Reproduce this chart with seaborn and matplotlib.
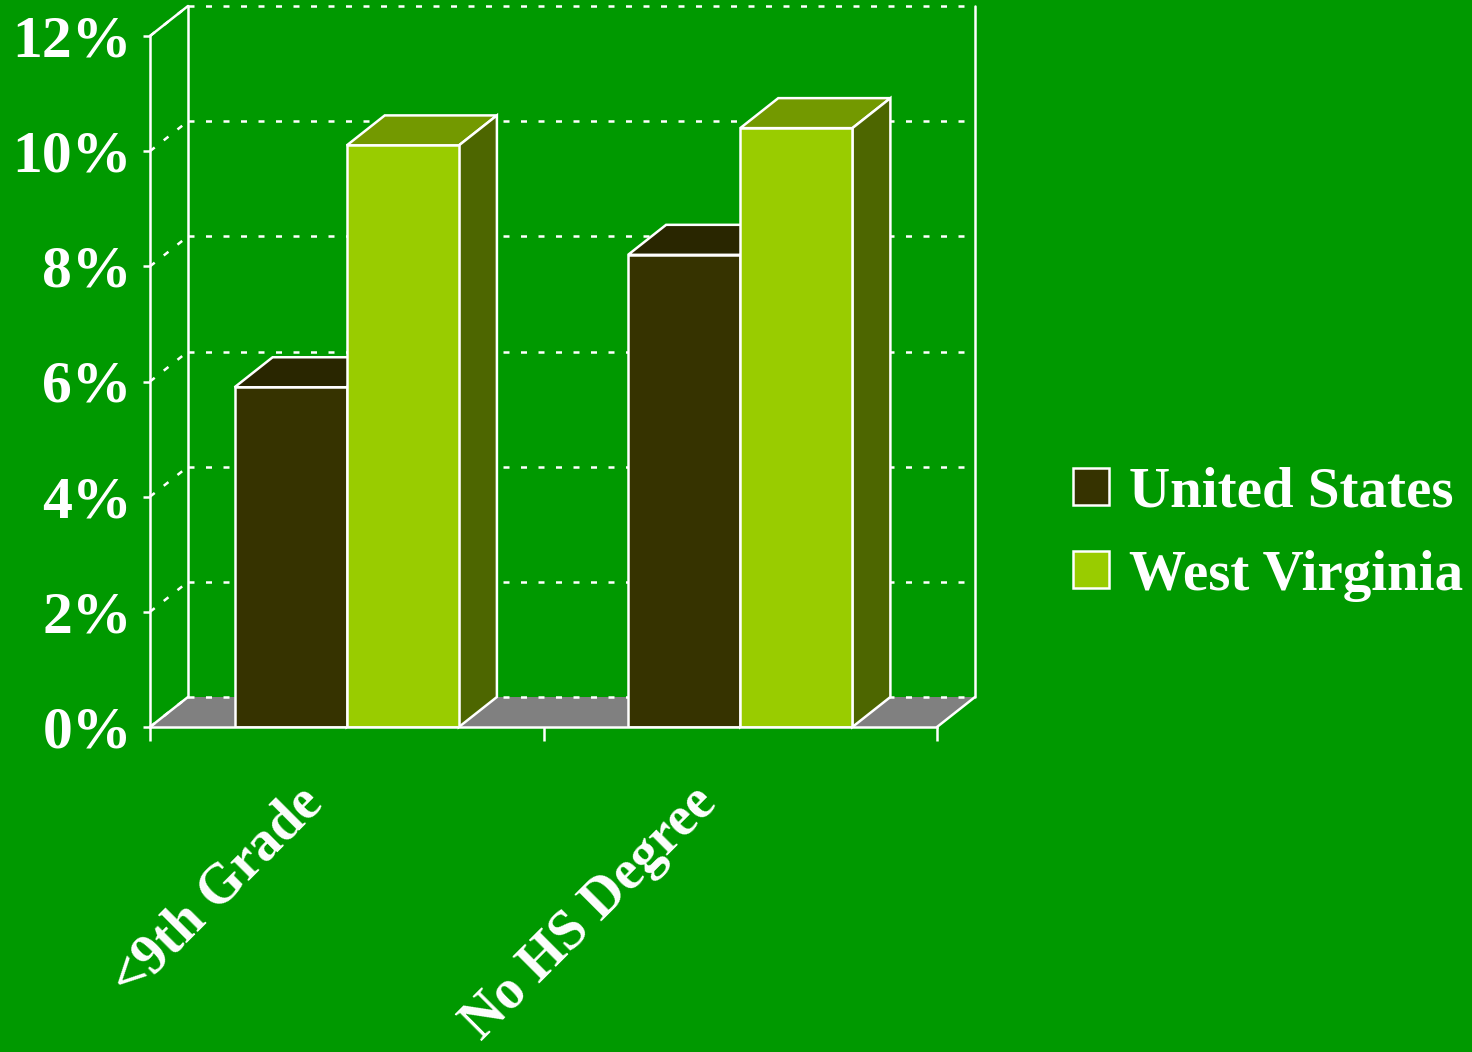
import numpy as np
import pandas as pd
import seaborn as sns
import matplotlib.pyplot as plt
import matplotlib.transforms as mtransforms
import matplotlib.ticker as mtick
from matplotlib.patches import Polygon

levels = ["<9th Grade", "No HS Degree"]
regions = ["United States", "West Virginia"]
us_pct = [5.9, 8.2]
wv_pct = [10.1, 10.4]
y_ticks = [0, 2, 4, 6, 8, 10, 12]

bg = "#009900"
bar_colors = ["#363300", "#99CC00"]
floor_color = "#808080"

df = pd.DataFrame({
    "level": levels * 2,
    "region": [regions[0]] * len(levels) + [regions[1]] * len(levels),
    "pct": us_pct + wv_pct,
})

sns.set_theme(style="white")
plt.rcParams["font.family"] = ["Liberation Serif", "DejaVu Serif"]
plt.rcParams["font.weight"] = "bold"

W, H = 1472, 1052
fig = plt.figure(figsize=(W / 100, H / 100), dpi=100)
fig.patch.set_facecolor(bg)
ax = fig.add_axes([150 / W, (H - 727) / H, 787 / W, 691 / H])
ax.set_facecolor("none")

sns.barplot(data=df, x="level", y="pct", hue="region", palette=bar_colors,
            saturation=1, width=0.57, edgecolor="white", linewidth=1.8,
            ax=ax, zorder=3)
ax.set_xlim(-0.5, 1.5)
ax.set_ylim(0, 12)
bars = list(ax.patches)

# depth of the fake 3-D box: 38px right, 30px up -> data units
inv = ax.transData.inverted()
origin = ax.transData.transform((0, 0))
dx, dy = inv.transform(origin + np.array([38, 30])) - inv.transform(origin)

line_kw = dict(color="white", lw=1.8, clip_on=False)
grid_kw = dict(color="white", lw=1.8, ls=(0, (2.4, 4.6)), clip_on=False, zorder=1.5)

# floor
ax.add_patch(Polygon([(-0.5, 0), (1.5, 0), (1.5 + dx, dy), (-0.5 + dx, dy)],
                     fc=floor_color, ec="none", clip_on=False, zorder=1))

# back wall + side wall grid
for t in y_ticks:
    ax.plot([-0.5 + dx, 1.5 + dx], [t + dy, t + dy], **grid_kw)
    ax.plot([-0.5, -0.5 + dx], [t, t + dy], **grid_kw)

ax.plot([-0.5 + dx, -0.5 + dx], [dy, 12 + dy], zorder=1.6, **line_kw)
ax.plot([1.5 + dx, 1.5 + dx], [dy, 12 + dy], zorder=1.6, **line_kw)
ax.plot([-0.5, -0.5 + dx], [12, 12 + dy], zorder=1.6, **line_kw)
ax.plot([-0.5, -0.5 + dx], [0, dy], zorder=1.6, **line_kw)
ax.plot([1.5, 1.5 + dx], [0, dy], zorder=1.6, **line_kw)

# top and side faces of each bar
for bar in bars:
    x0, w, h = bar.get_x(), bar.get_width(), bar.get_height()
    rgb = np.array(bar.get_facecolor()[:3])
    ax.add_patch(Polygon([(x0, h), (x0 + w, h), (x0 + w + dx, h + dy), (x0 + dx, h + dy)],
                         fc=rgb * 0.75, ec="white", lw=1.8, zorder=2, clip_on=False))
    ax.add_patch(Polygon([(x0 + w, 0), (x0 + w + dx, dy), (x0 + w + dx, h + dy), (x0 + w, h)],
                         fc=rgb * 0.5, ec="white", lw=1.8, zorder=2, clip_on=False))
    bar.set_zorder(3)

# axes look
for s in ["top", "right"]:
    ax.spines[s].set_visible(False)
for s in ["left", "bottom"]:
    ax.spines[s].set_color("white")
    ax.spines[s].set_linewidth(1.8)
    ax.spines[s].set_zorder(4)

ax.set_yticks(y_ticks)
ax.yaxis.set_major_formatter(mtick.FuncFormatter(lambda y, _: "{:.0f}%".format(y)))
ax.tick_params(axis="y", colors="white", length=5, width=1.8, labelsize=43, pad=8, left=True)

ax.set_xticks([-0.5, 0.5, 1.5], minor=True)
ax.tick_params(axis="x", which="minor", length=10, width=1.8, color="white", bottom=True)
ax.tick_params(axis="x", which="major", length=0, labelsize=40, labelcolor="white", pad=36)
shift = mtransforms.ScaledTranslation(-0.14, 0, fig.dpi_scale_trans)
for lab in ax.get_xticklabels():
    lab.set_rotation(45)
    lab.set_ha("right")
    lab.set_va("top")
    lab.set_transform(lab.get_transform() + shift)
ax.set_xlabel("")
ax.set_ylabel("")

sns.move_legend(ax, "center left", bbox_to_anchor=(1073 / W, (H - 534) / H),
                bbox_transform=fig.transFigure, title=None, frameon=False,
                fontsize=41, labelcolor="white", handlelength=0.64, handleheight=0.64,
                handletextpad=0.35, labelspacing=0.55, borderpad=0, borderaxespad=0)
for hd in ax.get_legend().legend_handles:
    hd.set_edgecolor("white")
    hd.set_linewidth(1.8)

fig.savefig("out.png", dpi=100, facecolor=bg)
